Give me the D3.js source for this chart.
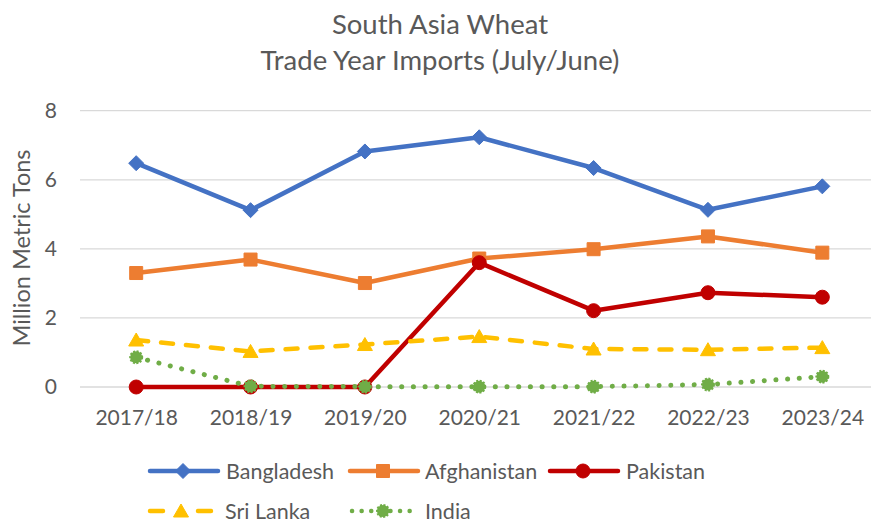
<!DOCTYPE html>
<html>
<head>
	<meta charset="utf-8">
	<script src="https://cdnjs.cloudflare.com/ajax/libs/d3/7.8.5/d3.min.js"></script>
	<style>
		body { margin: 0; background: #fff; }
		text { font-family: Lato, "Open Sans", sans-serif; fill: #595959; }
	</style>
</head>
<body>
	<svg width="871" height="525"></svg>
	<script>
		// data
		let years = ["2017/18", "2018/19", "2019/20", "2020/21", "2021/22", "2022/23", "2023/24"];
		let bangladesh = [6.48, 5.12, 6.82, 7.23, 6.34, 5.13, 5.81];
		let afghanistan = [3.30, 3.69, 3.01, 3.72, 3.99, 4.36, 3.89];
		let pakistan = [0, 0, 0, 3.60, 2.21, 2.73, 2.60];
		let sriLanka = [1.36, 1.03, 1.23, 1.46, 1.10, 1.08, 1.14];
		let india = [0.86, 0.02, 0.01, 0.01, 0.01, 0.07, 0.30];
		let yTicks = [0, 2, 4, 6, 8];

		let series = [
			{name: "Bangladesh", values: bangladesh, color: "#4472C4", dash: null, marker: "diamond"},
			{name: "Afghanistan", values: afghanistan, color: "#ED7D31", dash: null, marker: "square"},
			{name: "Pakistan", values: pakistan, color: "#C00000", dash: null, marker: "circle"},
			{name: "Sri Lanka", values: sriLanka, color: "#FFC000", dash: "12 13", marker: "triangle"},
			{name: "India", values: india, color: "#70AD47", dash: "0.1 11.6", marker: "star"}
		];

		let svg = d3.select("svg"),
			margin = {top: 110.7, left: 79, right: 879.5, bottom: 387};

		let x = d3.scalePoint().domain(years).range([margin.left, margin.right]).padding(0.5),
			y = d3.scaleLinear().domain([0, 8]).range([margin.bottom, margin.top]);

		// title
		let title = svg.append("text")
			.attr("text-anchor", "middle")
			.style("font-size", "27.5px");
		title.append("tspan").attr("x", 440).attr("y", 34).text("South Asia Wheat");
		title.append("tspan").attr("x", 440).attr("y", 70).text("Trade Year Imports (July/June)");

		// gridlines
		svg.append("g")
			.selectAll("line")
			.data(yTicks)
			.enter()
			.append("line")
			.attr("x1", margin.left + 1)
			.attr("x2", margin.right)
			.attr("y1", d => y(d))
			.attr("y2", d => y(d))
			.attr("stroke", "#D9D9D9")
			.attr("stroke-width", 1.3);

		// y axis
		let yAxis = svg.append("g")
			.attr("transform", "translate(57,0)")
			.call(d3.axisLeft(y).tickValues(yTicks).tickSize(0).tickPadding(0));
		yAxis.select(".domain").remove();
		yAxis.selectAll("text").style("font-size", "21px").attr("fill", "#595959");

		// x axis
		let xAxis = svg.append("g")
			.attr("transform", "translate(0,418)")
			.call(d3.axisBottom(x).tickSize(0).tickPadding(0));
		xAxis.select(".domain").remove();
		xAxis.selectAll("text").style("font-size", "21px").attr("fill", "#595959").attr("dy", "0.35em");

		// y label
		svg.append("text")
			.attr("transform", "translate(22,248) rotate(-90)")
			.attr("text-anchor", "middle")
			.attr("dy", "0.35em")
			.style("font-size", "23.5px")
			.text("Million Metric Tons");

		function markerPath(type) {
			if (type === "diamond") return "M0,-7.5L7.5,0L0,7.5L-7.5,0Z";
			if (type === "square") return "M-6.5,-6.5H6.5V6.5H-6.5Z";
			if (type === "circle") return d3.symbol().type(d3.symbolCircle).size(Math.PI * 49)();
			if (type === "triangle") return "M0,-7L7.5,6L-7.5,6Z";
			return d3.symbol().type(d3.symbolCircle).size(Math.PI * 36)();
		}

		let line = d3.line()
			.x((d, i) => x(years[i]))
			.y(d => y(d));

		// lines and markers
		series.forEach(s => {
			let g = svg.append("g");
			g.append("path")
				.attr("d", line(s.values))
				.attr("fill", "none")
				.attr("stroke", s.color)
				.attr("stroke-width", s.marker === "star" ? 5 : 4.5)
				.attr("stroke-linecap", s.dash ? "round" : "butt")
				.attr("stroke-linejoin", "round")
				.attr("stroke-dasharray", s.dash);
			g.selectAll("path.m")
				.data(s.values)
				.enter()
				.append("path")
				.attr("class", "m")
				.attr("transform", (d, i) => "translate(" + x(years[i]) + "," + y(d) + ")")
				.attr("d", markerPath(s.marker))
				.attr("fill", s.color)
				.attr("stroke", s.color)
				.attr("stroke-width", s.marker === "star" ? 2 : 1)
				.attr("stroke-dasharray", s.marker === "star" ? "2 1.5" : null);
		});

		// legend
		let legendPos = [
			{x: 148, y: 471, tx: 226},
			{x: 348, y: 471, tx: 425},
			{x: 548, y: 471, tx: 626},
			{x: 148, y: 511, tx: 225},
			{x: 348, y: 511, tx: 425}
		];
		let legend = svg.append("g")
			.selectAll("g")
			.data(series)
			.enter()
			.append("g")
			.attr("transform", (d, i) => "translate(" + legendPos[i].x + "," + legendPos[i].y + ")");
		legend.append("line")
			.attr("x1", d => d.marker === "star" ? 4 : 2)
			.attr("x2", d => d.marker === "star" ? 65 : (d.marker === "triangle" ? 63 : 70))
			.attr("stroke", d => d.color)
			.attr("stroke-width", 4.5)
			.attr("stroke-linecap", "round")
			.attr("stroke-dasharray", d => d.marker === "triangle" ? "13 35" : (d.marker === "star" ? "0.1 9.5" : null));
		legend.append("path")
			.attr("transform", d => d.marker === "triangle" ? "translate(33,0)" : "translate(35,0)")
			.attr("d", d => markerPath(d.marker))
			.attr("fill", d => d.color)
			.attr("stroke", d => d.color)
			.attr("stroke-dasharray", d => d.marker === "star" ? "2 1.5" : null)
			.attr("stroke-width", d => d.marker === "star" ? 2 : 1);
		legend.append("text")
			.attr("x", (d, i) => legendPos[i].tx - legendPos[i].x)
			.attr("dy", "0.35em")
			.style("font-size", "21.5px")
			.text(d => d.name);
	</script>
</body>
</html>
